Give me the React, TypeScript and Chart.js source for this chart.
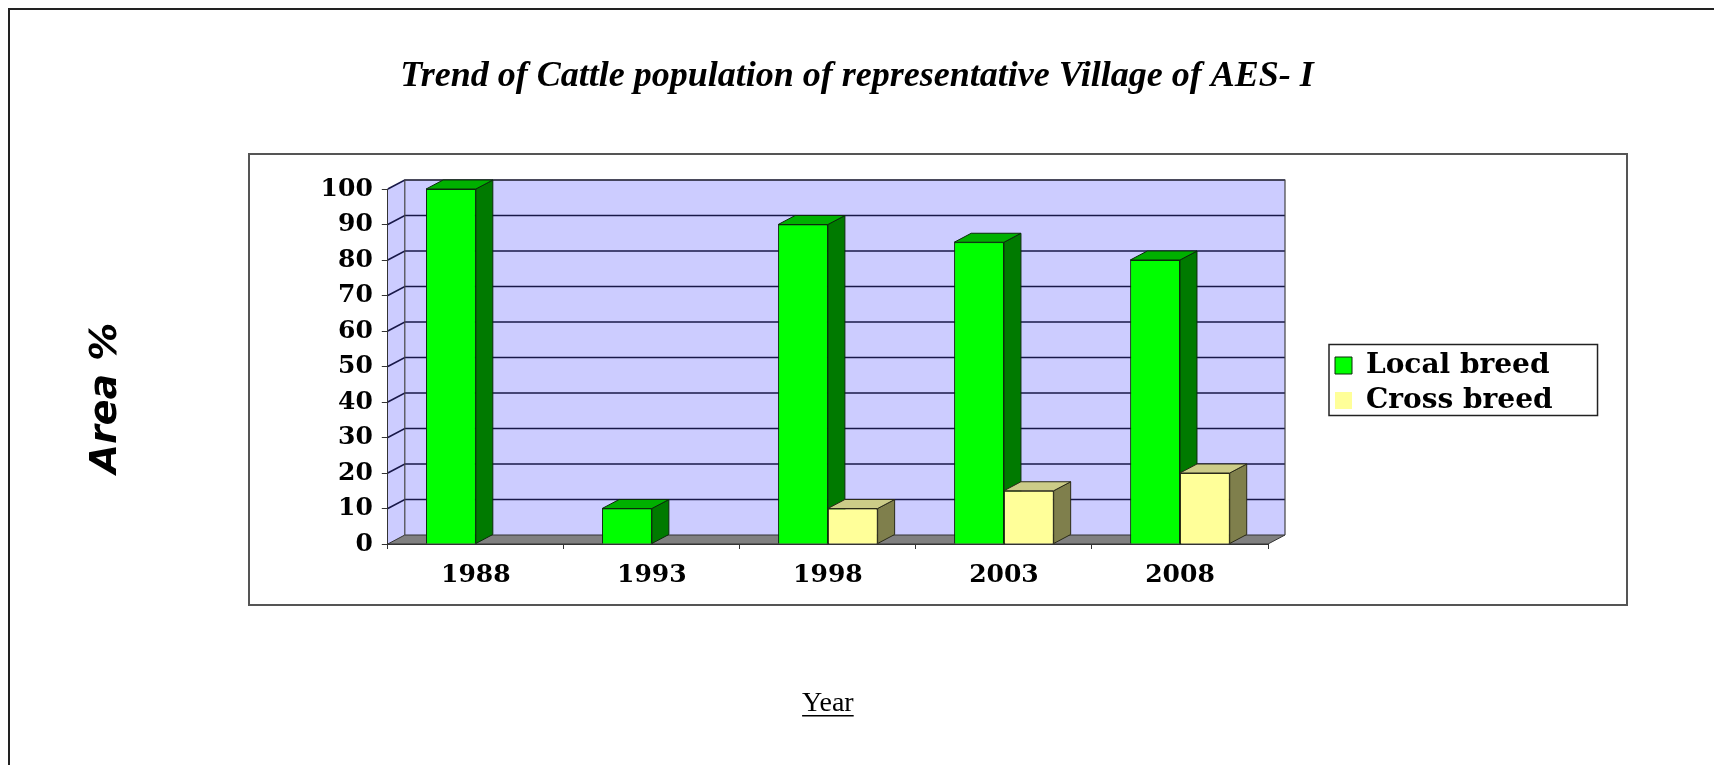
import React, { useEffect, useRef } from 'react';
import { Chart, registerables } from 'chart.js';

Chart.register(...registerables);

// ---------- data ----------
const years: string[] = ['1988', '1993', '1998', '2003', '2008'];
const localBreed: number[] = [100, 10, 90, 85, 80];
const crossBreed: number[] = [0, 0, 10, 15, 20];
const seriesNames: string[] = ['Local breed', 'Cross breed'];
const yMin = 0;
const yMax = 100;
const yStep = 10;
const titleText = 'Trend of Cattle population of representative Village of AES- I';
const yTitleText = 'Area %';
const xTitleText = 'Year';

// ---------- styles / layout ----------
const W = 1706;
const H = 757;
const DX = 17;
const DY = 9;
const FRONT = ['#00FF00', '#FFFF99'];
const SIDE = ['#007A00', '#7F7F4C'];
const TOPC = ['#00B000', '#CCCC88'];
const EDGE = ['#0b2b0b', '#2b2b18'];
const WALL = '#CCCCFF';
const FLOOR = '#808080';
const GRID = '#181848';

const TICK_FONT = { family: '"DejaVu Serif", serif', size: 25, weight: 'bold' as const };
const LEGEND_FONT = { family: '"DejaVu Serif", serif', size: 28, weight: 'bold' as const };
const TITLE_FONT = { family: '"Liberation Serif", "Times New Roman", serif', size: 36, weight: 'bold' as const, style: 'italic' as const };
const YTITLE_FONT = { family: '"DejaVu Sans", sans-serif', size: 38, weight: 'bold' as const, style: 'italic' as const };
const XTITLE_FONT = { family: '"Liberation Serif", "Times New Roman", serif', size: 28, weight: 'normal' as const };
const XTITLE_PAD_BOTTOM = 45;

const RIGHT_TOTAL = 438; // room right of the plot (inner pad + legend + outer pad)
const INNER_PAD = 60;

const threeD = {
  id: 'threeD',
  beforeDraw(chart: any) {
    const { ctx, chartArea: a, scales } = chart;
    const ys = scales.y;
    ctx.save();
    // back wall
    ctx.fillStyle = WALL;
    ctx.fillRect(a.left + DX, a.top - DY, a.right - a.left, a.bottom - a.top);
    // side wall
    ctx.beginPath();
    ctx.moveTo(a.left, a.bottom);
    ctx.lineTo(a.left, a.top);
    ctx.lineTo(a.left + DX, a.top - DY);
    ctx.lineTo(a.left + DX, a.bottom - DY);
    ctx.closePath();
    ctx.fillStyle = WALL;
    ctx.fill();
    // floor
    ctx.beginPath();
    ctx.moveTo(a.left, a.bottom);
    ctx.lineTo(a.right, a.bottom);
    ctx.lineTo(a.right + DX, a.bottom - DY);
    ctx.lineTo(a.left + DX, a.bottom - DY);
    ctx.closePath();
    ctx.fillStyle = FLOOR;
    ctx.fill();
    ctx.strokeStyle = '#333';
    ctx.lineWidth = 1;
    ctx.stroke();
    // grid lines
    ctx.strokeStyle = GRID;
    ctx.lineWidth = 1.6;
    ys.ticks.forEach((t: any) => {
      if (t.value === yMin) return;
      const p = ys.getPixelForValue(t.value);
      ctx.beginPath();
      ctx.moveTo(a.left, p);
      ctx.lineTo(a.left + DX, p - DY);
      ctx.lineTo(a.right + DX, p - DY);
      ctx.stroke();
    });
    // wall outlines
    ctx.strokeStyle = '#444';
    ctx.lineWidth = 1.2;
    ctx.beginPath();
    ctx.moveTo(a.left + DX, a.bottom - DY);
    ctx.lineTo(a.left + DX, a.top - DY);
    ctx.lineTo(a.right + DX, a.top - DY);
    ctx.lineTo(a.right + DX, a.bottom - DY);
    ctx.stroke();
    ctx.restore();
  },
  afterDatasetsDraw(chart: any) {
    const { ctx } = chart;
    const metas = chart.getSortedVisibleDatasetMetas().slice().sort((p: any, q: any) => p.index - q.index);
    const n = chart.data.labels.length;
    ctx.save();
    for (let i = 0; i < n; i++) {
      metas.forEach((meta: any) => {
        const raw = chart.data.datasets[meta.index].data[i];
        if (!raw) return;
        const el = meta.data[i];
        const { x, y, base, width } = el.getProps(['x', 'y', 'base', 'width'], true);
        const l = x - width / 2;
        const r = x + width / 2;
        el.draw(ctx);
        ctx.lineWidth = 1;
        ctx.strokeStyle = EDGE[meta.index];
        // side face
        ctx.beginPath();
        ctx.moveTo(r, y);
        ctx.lineTo(r + DX, y - DY);
        ctx.lineTo(r + DX, base - DY);
        ctx.lineTo(r, base);
        ctx.closePath();
        ctx.fillStyle = SIDE[meta.index];
        ctx.fill();
        ctx.stroke();
        // top face
        ctx.beginPath();
        ctx.moveTo(l, y);
        ctx.lineTo(l + DX, y - DY);
        ctx.lineTo(r + DX, y - DY);
        ctx.lineTo(r, y);
        ctx.closePath();
        ctx.fillStyle = TOPC[meta.index];
        ctx.fill();
        ctx.stroke();
      });
    }
    ctx.restore();
  },
  afterDraw(chart: any) {
    const { ctx } = chart;
    ctx.save();
    // legend frame
    const hb = chart.legend && chart.legend.legendHitBoxes;
    if (hb && hb.length) {
      const left = Math.min(...hb.map((b: any) => b.left)) - 6;
      const top = Math.min(...hb.map((b: any) => b.top)) - 7;
      const right = Math.max(...hb.map((b: any) => b.left + b.width)) + 45;
      const bottom = Math.max(...hb.map((b: any) => b.top + b.height)) + 1;
      ctx.strokeStyle = '#222';
      ctx.lineWidth = 1.5;
      ctx.strokeRect(left, top, right - left, bottom - top);
    }
    // underline of x title
    const xs = chart.scales.x;
    const lh = XTITLE_FONT.size * 1.2;
    const ty = xs.bottom - (lh / 2 + XTITLE_PAD_BOTTOM);
    ctx.font = `${XTITLE_FONT.size}px ${XTITLE_FONT.family}`;
    const tw = ctx.measureText(xTitleText).width;
    const cx = (xs.left + xs.right) / 2;
    ctx.strokeStyle = '#000';
    ctx.lineWidth = 1.6;
    ctx.beginPath();
    ctx.moveTo(cx - tw / 2, ty + XTITLE_FONT.size * 0.45);
    ctx.lineTo(cx + tw / 2, ty + XTITLE_FONT.size * 0.45);
    ctx.stroke();
    ctx.restore();
  },
};

const hiddenScale = (weight: number, fit: (s: any) => void) => ({
  type: 'linear' as const,
  position: 'right' as const,
  weight,
  display: true,
  grid: { display: false, drawTicks: false },
  border: { display: false },
  ticks: { display: false },
  title: { display: false },
  afterFit: fit,
});

export default function App() {
  const ref = useRef<HTMLCanvasElement>(null);
  useEffect(() => {
    const canvas = ref.current;
    if (!canvas) return;
    const chart = new Chart(canvas, {
      type: 'bar',
      data: {
        labels: years,
        datasets: [
          {
            label: seriesNames[0],
            data: localBreed,
            backgroundColor: FRONT[0],
            borderColor: EDGE[0],
            borderWidth: (c: any) => (c.raw === 0 ? 0 : 1),
          },
          {
            label: seriesNames[1],
            data: crossBreed,
            backgroundColor: FRONT[1],
            borderColor: EDGE[1],
            borderWidth: (c: any) => (c.raw === 0 ? 0 : 1),
          },
        ],
      },
      options: {
        responsive: false,
        animation: false,
        events: [],
        layout: { padding: { left: 0, top: 23, right: 8, bottom: 0 } },
        datasets: { bar: { categoryPercentage: 0.565, barPercentage: 1 } },
        plugins: {
          title: {
            display: true,
            text: titleText,
            color: '#000',
            font: TITLE_FONT,
            padding: { top: 24, bottom: 90.8 },
          },
          subtitle: {
            display: true,
            text: yTitleText,
            position: 'left',
            color: '#000',
            font: YTITLE_FONT,
            padding: { top: 75, bottom: 0 },
          },
          legend: {
            display: true,
            position: 'right',
            fullSize: false,
            align: 'center',
            maxWidth: 400,
            title: { display: true, text: '', padding: { top: 21, bottom: 0 }, font: { size: 10 } },
            labels: {
              boxWidth: 17,
              boxHeight: 17,
              padding: 7,
              color: '#000',
              font: LEGEND_FONT,
            },
          },
          tooltip: { enabled: false },
        },
        scales: {
          x: {
            ticks: { color: '#000', font: TICK_FONT, padding: 11, maxRotation: 0, autoSkip: false },
            grid: { drawOnChartArea: false, drawTicks: true, tickLength: 5, color: '#333', offset: true },
            border: { display: true, color: '#333', width: 1 },
            title: {
              display: true,
              text: xTitleText,
              color: '#000',
              font: XTITLE_FONT,
              padding: { top: 0, bottom: XTITLE_PAD_BOTTOM },
            },
            afterFit: (s: any) => {
              s.height = 221;
            },
          },
          y: {
            min: yMin,
            max: yMax,
            ticks: { stepSize: yStep, color: '#000', font: TICK_FONT, padding: 9 },
            grid: { drawOnChartArea: false, drawTicks: true, tickLength: 6, color: '#333' },
            border: { display: true, color: '#333', width: 1 },
            afterFit: (s: any) => {
              s.width = 259.2;
            },
          },
          padInner: hiddenScale(0, (s: any) => {
            s.width = INNER_PAD;
          }),
          padOuter: hiddenScale(2000, (s: any) => {
            const lw = (s.chart.legend && s.chart.legend.width) || 0;
            s.width = Math.max(0, RIGHT_TOTAL - INNER_PAD - lw);
          }),
        },
      } as any,
      plugins: [threeD],
    });
    return () => chart.destroy();
  }, []);

  return (
    <div style={{ position: 'relative', width: W, height: H, overflow: 'hidden' }}>
      <div
        style={{
          position: 'absolute',
          left: 0,
          top: 0,
          width: W,
          height: H,
          borderTop: '2px solid #222',
          borderLeft: '2px solid #222',
          boxSizing: 'border-box',
        }}
      />
      <div
        style={{
          position: 'absolute',
          left: 240,
          top: 145,
          width: 1380,
          height: 453,
          border: '2px solid #555',
          boxSizing: 'border-box',
        }}
      />
      <canvas
        ref={ref}
        width={W}
        height={H}
        style={{ position: 'absolute', left: 0, top: 0, width: W, height: H }}
      />
    </div>
  );
}
